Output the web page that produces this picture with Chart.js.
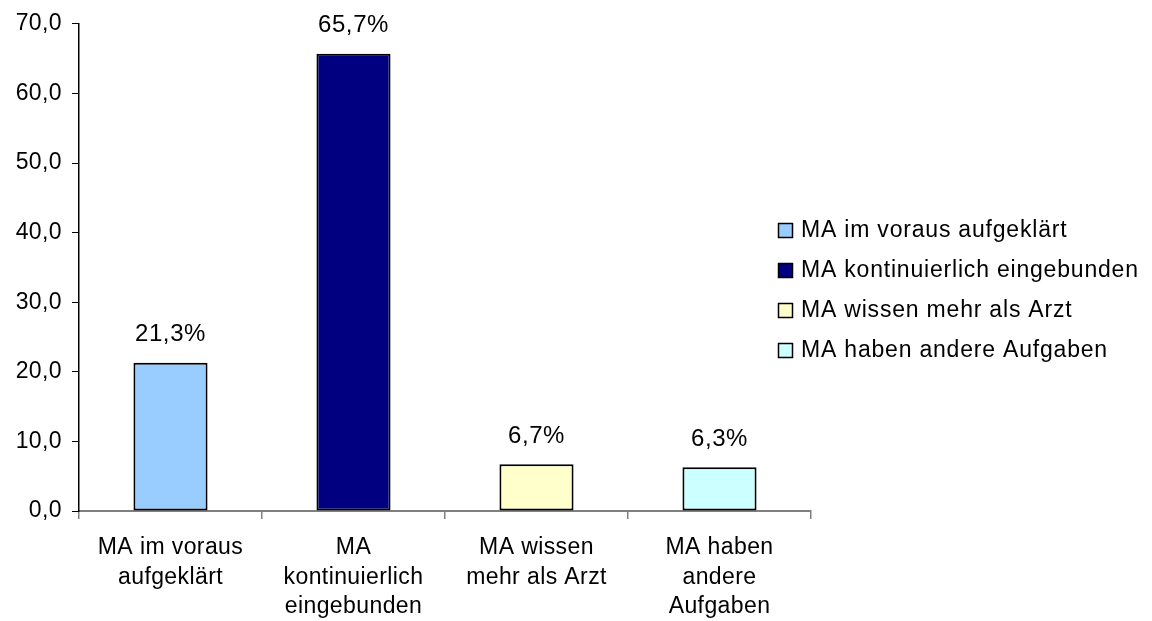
<!DOCTYPE html>
<html>
<head>
<meta charset="utf-8">
<script src="https://cdn.jsdelivr.net/npm/chart.js@4.4.0/dist/chart.umd.min.js"></script>
<style>
  html, body { margin: 0; padding: 0; background: #fff; }
  #wrap { width: 1152px; height: 621px; }
</style>
</head>
<body>
<div id="wrap"><canvas id="barChart" width="1152" height="621"></canvas></div>
<script>
// chart data
const categories = [
    ['MA im voraus', 'aufgeklärt'],
    ['MA', 'kontinuierlich', 'eingebunden'],
    ['MA wissen', 'mehr als Arzt'],
    ['MA haben', 'andere', 'Aufgaben']
];
const legendLabels = [
    'MA im voraus aufgeklärt',
    'MA kontinuierlich eingebunden',
    'MA wissen mehr als Arzt',
    'MA haben andere Aufgaben'
];
const values = [21.3, 65.7, 6.7, 6.3];
const barColors = ['#99CCFF', '#000080', '#FFFFCC', '#CCFFFF'];

const FONT = '"Liberation Sans", Arial, sans-serif';
const AXIS_SIZE = 23;

function fmt(v, digits) {
    return v.toFixed(digits).replace('.', ',');
}

// the original text is a bit spread out, so widen the letters a little
const spacing = {
    id: 'spacing',
    beforeUpdate(chart) { chart.ctx.letterSpacing = '0.4px'; },
    beforeDraw(chart) { chart.ctx.letterSpacing = '0.4px'; }
};

// value labels above bars
const valueLabels = {
    id: 'valueLabels',
    afterDatasetsDraw(chart) {
        const ctx = chart.ctx;
        const meta = chart.getDatasetMeta(0);
        ctx.save();
        ctx.letterSpacing = '0.6px';
        ctx.font = '24px ' + FONT;
        ctx.fillStyle = '#000';
        ctx.textAlign = 'center';
        ctx.textBaseline = 'middle';
        meta.data.forEach((bar, i) => {
            ctx.fillText(fmt(values[i], 1) + '%', bar.x, bar.y - 28);
        });
        ctx.restore();
    }
};

// legend on the right, drawn by hand so it can sit over the axis range
const sideLegend = {
    id: 'sideLegend',
    afterDraw(chart) {
        const ctx = chart.ctx;
        ctx.save();
        ctx.letterSpacing = '0.8px';
        ctx.font = '23px ' + FONT;
        ctx.textBaseline = 'middle';
        legendLabels.forEach((label, i) => {
            const y = 230 + i * 40;
            ctx.fillStyle = barColors[i];
            ctx.fillRect(778.5, y - 6.5, 14, 14);
            ctx.strokeStyle = '#000';
            ctx.lineWidth = 1.5;
            ctx.strokeRect(778.5, y - 6.5, 14, 14);
            ctx.fillStyle = '#000';
            ctx.fillText(label, 801, y + 1);
        });
        ctx.restore();
    }
};

new Chart(document.getElementById('barChart'), {
    type: 'bar',
    data: {
        labels: categories,
        datasets: [{
            data: values,
            backgroundColor: barColors,
            borderColor: '#000',
            borderWidth: 2,
            borderSkipped: false,
            categoryPercentage: 1,
            barPercentage: 0.405
        }]
    },
    options: {
        responsive: false,
        animation: false,
        layout: { padding: { top: 22, right: 341, left: 0, bottom: 0 } },
        plugins: {
            legend: { display: false },
            tooltip: { enabled: false }
        },
        scales: {
            x: {
                grid: {
                    offset: true,
                    drawOnChartArea: false,
                    tickLength: 8,
                    color: '#808080',
                    lineWidth: 1.5
                },
                border: { color: '#808080', width: 2 },
                ticks: {
                    color: '#000',
                    font: { family: FONT, size: AXIS_SIZE, lineHeight: 1.28 },
                    padding: 14,
                    maxRotation: 0,
                    autoSkip: false
                },
                afterFit(scale) { scale.height = 110; }
            },
            y: {
                min: 0,
                max: 70,
                grid: {
                    drawOnChartArea: false,
                    tickLength: 7,
                    color: '#000',
                    lineWidth: 1
                },
                border: { color: '#000', width: 1.5 },
                ticks: {
                    stepSize: 10,
                    color: '#000',
                    font: { family: FONT, size: AXIS_SIZE },
                    padding: 10,
                    callback: v => fmt(v, 1)
                },
                afterFit(scale) { scale.width = 79; }
            }
        }
    },
    plugins: [spacing, valueLabels, sideLegend]
});
</script>
</body>
</html>
